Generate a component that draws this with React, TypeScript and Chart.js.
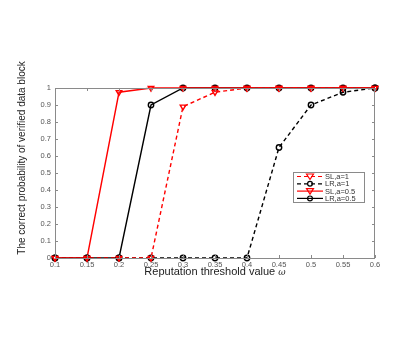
import React, { useEffect, useRef } from "react";
import { Chart, registerables } from "chart.js";
Chart.register(...registerables);

const thresholds = [0.1, 0.15, 0.2, 0.25, 0.3, 0.35, 0.4, 0.45, 0.5, 0.55, 0.6];
const slA1 = [0, 0, 0, 0, 0.89, 0.975, 1, 1, 1, 1, 1];
const lrA1 = [0, 0, 0, 0, 0, 0, 0, 0.65, 0.9, 0.975, 1];
const slA05 = [0, 0, 0.975, 1, 1, 1, 1, 1, 1, 1, 1];
const lrA05 = [0, 0, 0, 0.9, 1, 1, 1, 1, 1, 1, 1];
const seriesNames = ["SL,a=1", "LR,a=1", "SL,a=0.5", "LR,a=0.5"];
const xTitle = "Reputation threshold value ";
const yTitle = "The correct probability of verified data block";

const AXIS = "#8a8a8a";
const FONT = "'Liberation Sans', Arial, sans-serif";

const decor = {
  id: "decor",
  afterDraw(chart: any) {
    const { ctx, chartArea: a, scales } = chart;
    const xs = scales.x, ys = scales.y;
    ctx.save();
    ctx.strokeStyle = AXIS;
    ctx.lineWidth = 1;
    ctx.strokeRect(a.left + 0.5, a.top + 0.5, a.right - a.left - 1, a.bottom - a.top);
    ctx.beginPath();
    for (const v of thresholds) {
      const px = Math.round(xs.getPixelForValue(v)) + 0.5;
      ctx.moveTo(px, a.bottom); ctx.lineTo(px, a.bottom - 3);
      ctx.moveTo(px, a.top); ctx.lineTo(px, a.top + 3);
    }
    for (let i = 0; i <= 10; i++) {
      const py = Math.round(ys.getPixelForValue(i / 10)) + 0.5;
      ctx.moveTo(a.left, py); ctx.lineTo(a.left + 3, py);
      ctx.moveTo(a.right, py); ctx.lineTo(a.right - 3, py);
    }
    ctx.stroke();

    // titles
    ctx.fillStyle = "#222";
    ctx.font = `11px ${FONT}`;
    ctx.textBaseline = "middle";
    const w1 = ctx.measureText(xTitle).width;
    ctx.font = `italic 9px 'DejaVu Serif', serif`;
    const w2 = ctx.measureText("ω").width;
    const cx = (a.left + a.right) / 2;
    const sx = cx - (w1 + w2) / 2;
    ctx.font = `11px ${FONT}`;
    ctx.textAlign = "left";
    ctx.fillText(xTitle, sx, 272);
    ctx.font = `italic 9px 'DejaVu Serif', serif`;
    ctx.fillText("ω", sx + w1, 273);

    ctx.save();
    ctx.translate(22, 158);
    ctx.rotate(-Math.PI / 2);
    ctx.font = `10px ${FONT}`;
    ctx.textAlign = "center";
    ctx.fillText(yTitle, 0, 0);
    ctx.restore();

    // legend
    const lx = 293, ly = 172, lw = 71, lh = 30;
    ctx.fillStyle = "#fff";
    ctx.fillRect(lx, ly, lw, lh);
    ctx.strokeStyle = AXIS;
    ctx.lineWidth = 1;
    ctx.strokeRect(lx + 0.5, ly + 0.5, lw, lh);
    const ds = chart.data.datasets;
    ds.forEach((d: any, i: number) => {
      const y = ly + 4.5 + i * 7.3;
      ctx.strokeStyle = d.borderColor;
      ctx.lineWidth = 1.2;
      ctx.setLineDash(d.borderDash || []);
      ctx.beginPath();
      ctx.moveTo(lx + 4, y); ctx.lineTo(lx + 30, y);
      ctx.stroke();
      ctx.setLineDash([]);
      ctx.beginPath();
      if (d.pointStyle === "circle") {
        ctx.arc(lx + 17, y, 2.4, 0, Math.PI * 2);
        ctx.stroke();
      } else {
        ctx.moveTo(lx + 13.5, y - 2.5); ctx.lineTo(lx + 20.5, y - 2.5); ctx.lineTo(lx + 17, y + 3);
        ctx.closePath();
        ctx.stroke();
      }
      ctx.fillStyle = "#333";
      ctx.font = `7.5px ${FONT}`;
      ctx.textAlign = "left";
      ctx.fillText(d.label, lx + 32, y + 0.5);
    });
    ctx.restore();
  },
};

export default function App() {
  const ref = useRef<HTMLCanvasElement>(null);
  useEffect(() => {
    const mk = (label: string, data: number[], color: string, dash: number[], style: string) => ({
      label,
      data: data.map((v, i) => ({ x: thresholds[i], y: v })),
      borderColor: color,
      backgroundColor: "rgba(0,0,0,0)",
      borderWidth: 1.4,
      borderDash: dash,
      pointStyle: style,
      pointRotation: style === "triangle" ? 180 : 0,
      pointRadius: style === "triangle" ? 3.2 : 2.7,
      pointBorderWidth: 1.4,
      pointBorderColor: color,
      pointBackgroundColor: "rgba(0,0,0,0)",
      tension: 0,
      clip: false as any,
    });
    const chart = new Chart(ref.current!, {
      type: "line",
      data: {
        datasets: [
          mk(seriesNames[0], slA1, "#ff0000", [4, 3], "triangle"),
          mk(seriesNames[1], lrA1, "#000000", [4, 3], "circle"),
          mk(seriesNames[2], slA05, "#ff0000", [], "triangle"),
          mk(seriesNames[3], lrA05, "#000000", [], "circle"),
        ],
      },
      options: {
        animation: false,
        responsive: false,
        layout: { padding: { left: 0, top: 88, right: 40, bottom: 0 } },
        plugins: { legend: { display: false }, tooltip: { enabled: false } },
        scales: {
          x: {
            type: "linear",
            min: 0.1,
            max: 0.6,
            afterFit: (s: any) => { s.height = 96; },
            grid: { display: false, drawTicks: false },
            border: { display: false },
            ticks: {
              stepSize: 0.05,
              padding: 2,
              color: "#555",
              font: { size: 7.5, family: FONT },
              maxRotation: 0,
              callback: (v: any) => String(Number(Number(v).toFixed(2))),
            },
          },
          y: {
            min: 0,
            max: 1,
            afterFit: (s: any) => { s.width = 55; },
            grid: { display: false, drawTicks: false },
            border: { display: false },
            ticks: {
              stepSize: 0.1,
              padding: 4,
              color: "#555",
              font: { size: 7.5, family: FONT },
              callback: (v: any) => String(Number(Number(v).toFixed(1))),
            },
          },
        },
      },
      plugins: [decor],
    });
    return () => chart.destroy();
  }, []);
  return (
    <div style={{ position: "fixed", left: 0, top: 0, width: 415, height: 354, background: "#fff" }}>
      <canvas ref={ref} width={415} height={354} style={{ width: 415, height: 354 }} />
    </div>
  );
}
